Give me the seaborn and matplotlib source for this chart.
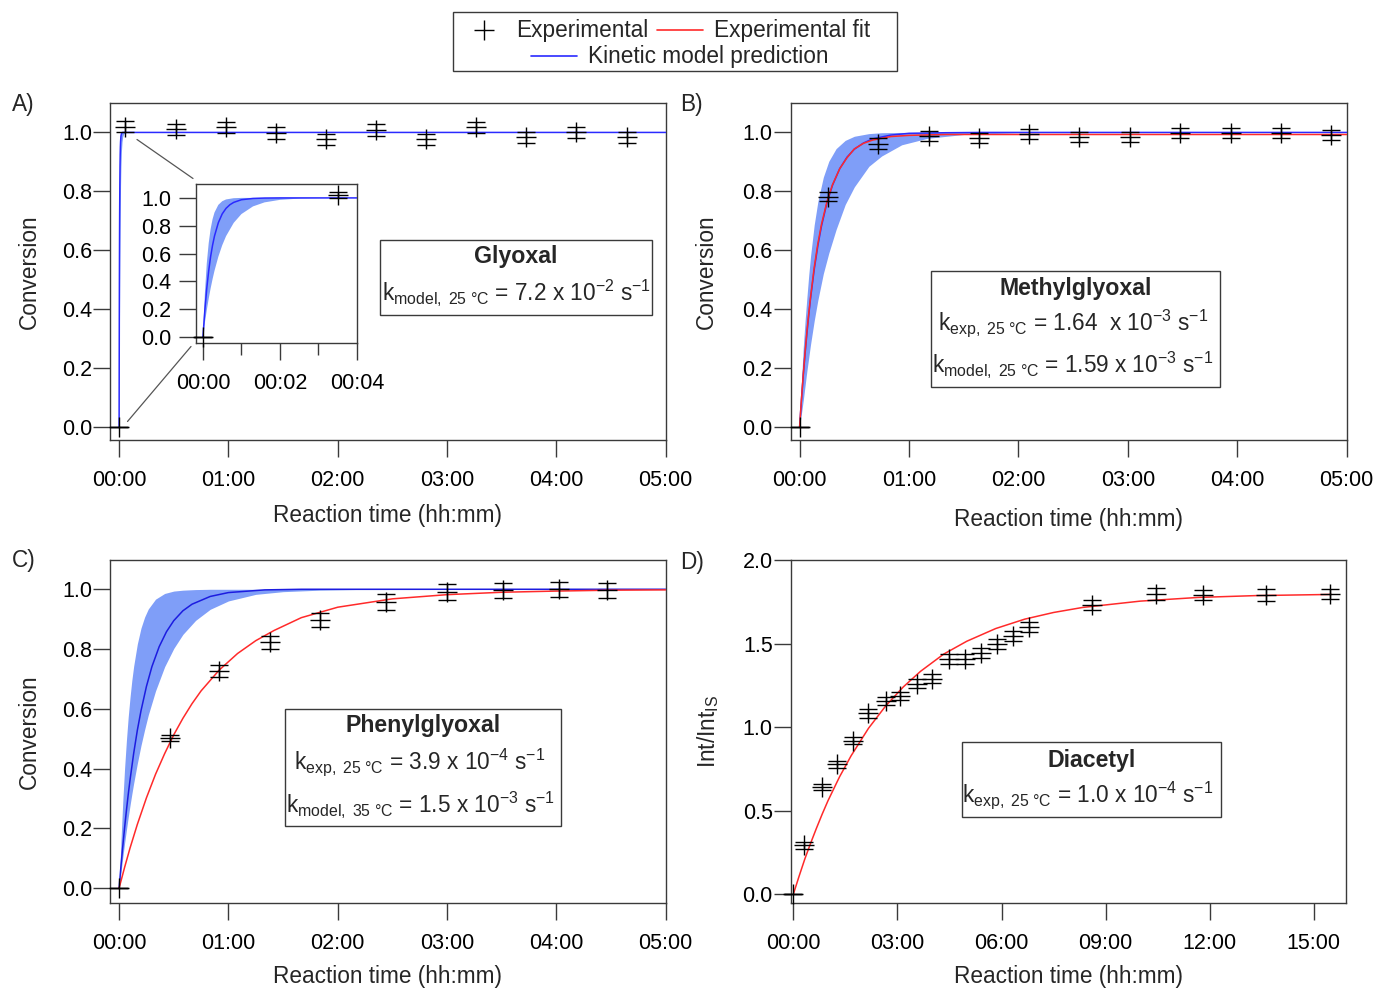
import numpy as np
import pandas as pd
import matplotlib
matplotlib.use("Agg")
import matplotlib.pyplot as plt
import seaborn as sns
from matplotlib.patches import Rectangle
from matplotlib.lines import Line2D
from matplotlib.ticker import FixedLocator, FuncFormatter

# ---------------- data (time in minutes) ----------------
# A) Glyoxal
gly_t = [0, 3.5, 31, 58.5, 86, 113.5, 141, 168.5, 196, 223.5, 251, 278.5]
gly_y = [0, 1.020, 1.010, 1.017, 0.997, 0.976, 1.007, 0.976, 1.017, 0.983, 1.000, 0.983]
gly_err = [0, 0.02, 0.02, 0.02, 0.02, 0.02, 0.02, 0.02, 0.02, 0.02, 0.02, 0.02]
gly_model_t = [0, 0.05, 0.1, 0.15, 0.2, 0.25, 0.3, 0.4, 0.5, 0.6, 0.7, 0.8, 1.0, 1.3, 1.6, 2.0, 300]
gly_model_y = [0, 0.194, 0.351, 0.477, 0.579, 0.66, 0.726, 0.822, 0.885, 0.925, 0.951, 0.968, 0.987, 0.996, 0.999, 1.0, 1.0]
gly_band_t = [0, 0.05, 0.1, 0.15, 0.2, 0.25, 0.3, 0.4, 0.5, 0.6, 0.8, 1.0, 1.3, 1.6, 2.0, 2.5, 3.0, 4.0, 300]
gly_band_hi = [0, 0.31, 0.53, 0.675, 0.777, 0.847, 0.895, 0.95, 0.976, 0.989, 0.998, 1.0, 1.0, 1.0, 1.0, 1.0, 1.0, 1.0, 1.0]
gly_band_lo = [0, 0.102, 0.193, 0.276, 0.35, 0.416, 0.476, 0.577, 0.659, 0.725, 0.821, 0.884, 0.939, 0.968, 0.986, 0.995, 0.998, 1.0, 1.0]

# B) Methylglyoxal
meth_t = [0, 15.8, 43.2, 70.7, 98.6, 125.8, 153.3, 181.3, 208.6, 236.3, 263.7, 291.5]
meth_y = [0, 0.782, 0.962, 0.989, 0.981, 0.994, 0.986, 0.986, 0.999, 0.999, 0.999, 0.991]
meth_err = [0, 0.014, 0.018, 0.017, 0.017, 0.017, 0.017, 0.017, 0.017, 0.017, 0.017, 0.017]
meth_curve_t = [0, 1, 2, 3, 4, 5, 6, 8, 10, 12, 15, 18, 22, 26, 30, 35, 40, 50, 60, 80, 100, 300]
meth_fit_y = [0, 0.093, 0.178, 0.254, 0.323, 0.385, 0.441, 0.541, 0.622, 0.688, 0.765, 0.822, 0.877, 0.914, 0.944, 0.963, 0.974, 0.986, 0.990, 0.993, 0.993, 0.993]
meth_model_y = [0, 0.091, 0.174, 0.249, 0.317, 0.379, 0.436, 0.534, 0.615, 0.682, 0.761, 0.820, 0.877, 0.916, 0.943, 0.964, 0.978, 0.991, 0.997, 0.999, 1.0, 1.0]
meth_band_t = [0, 1, 2, 3, 4, 5, 6, 8, 10, 13, 16, 20, 25, 30, 38, 45, 56, 70, 90, 120, 300]
meth_band_hi = [0, 0.15, 0.27, 0.36, 0.44, 0.515, 0.58, 0.686, 0.765, 0.848, 0.902, 0.945, 0.973, 0.987, 0.996, 0.999, 1.0, 1.0, 1.0, 1.0, 1.0]
meth_band_lo = [0, 0.045, 0.09, 0.14, 0.19, 0.235, 0.28, 0.36, 0.43, 0.52, 0.59, 0.67, 0.755, 0.815, 0.885, 0.92, 0.958, 0.98, 0.993, 0.999, 1.0]

# C) Phenylglyoxal
phen_t = [0, 28, 55, 83, 110.5, 146.3, 179.8, 210.8, 241.2, 267.6]
phen_y = [0, 0.502, 0.727, 0.822, 0.897, 0.958, 0.990, 0.996, 1.000, 0.996]
phen_err = [0, 0.011, 0.02, 0.022, 0.022, 0.027, 0.027, 0.025, 0.026, 0.025]
phen_fit_t = [0, 3, 6, 10, 15, 20, 25, 30, 35, 40, 45, 55, 65, 75, 85, 100, 120, 150, 180, 210, 240, 270, 300]
phen_fit_y = [0, 0.069, 0.134, 0.213, 0.302, 0.381, 0.45, 0.513, 0.568, 0.617, 0.66, 0.73, 0.785, 0.828, 0.862, 0.905, 0.94, 0.968, 0.982, 0.99, 0.994, 0.997, 0.998]
phen_model_t = [0, 1, 2, 3, 4, 5, 6, 8, 10, 12, 15, 18, 22, 26, 30, 35, 40, 50, 60, 80, 100, 300]
phen_model_y = [0, 0.072, 0.139, 0.201, 0.259, 0.313, 0.362, 0.451, 0.528, 0.593, 0.675, 0.741, 0.808, 0.858, 0.895, 0.928, 0.95, 0.976, 0.989, 0.998, 1.0, 1.0]
phen_band_t = [0, 1, 2, 3, 4, 5, 6, 7, 8, 10, 12, 14, 16, 20, 25, 30, 35, 42, 50, 60, 75, 90, 110, 130, 300]
phen_band_hi = [0, 0.156, 0.288, 0.40, 0.493, 0.573, 0.639, 0.696, 0.743, 0.817, 0.87, 0.907, 0.934, 0.967, 0.986, 0.994, 0.997, 0.999, 1.0, 1.0, 1.0, 1.0, 1.0, 1.0, 1.0]
phen_band_lo = [0, 0.052, 0.102, 0.15, 0.194, 0.237, 0.277, 0.315, 0.351, 0.417, 0.477, 0.53, 0.579, 0.66, 0.741, 0.802, 0.849, 0.896, 0.933, 0.961, 0.983, 0.992, 0.997, 0.999, 1.0]

# D) Diacetyl
dia_t = [0, 19.2, 49.4, 75, 103.9, 130, 160, 184.7, 213.5, 240.5, 269.3, 296.9, 323.8,
         351.4, 380.2, 407.2, 516.2, 626.4, 708.5, 817.5, 927.8]
dia_y = [0, 0.293, 0.641, 0.777, 0.92, 1.082, 1.155, 1.185, 1.261, 1.291, 1.408, 1.408, 1.444,
         1.5, 1.548, 1.6, 1.729, 1.797, 1.789, 1.789, 1.797]
dia_err = [0, 0.02, 0.02, 0.02, 0.02, 0.025, 0.025, 0.025, 0.025, 0.025, 0.03, 0.03, 0.03,
           0.03, 0.03, 0.03, 0.03, 0.035, 0.03, 0.035, 0.03]
dia_fit_t = [0, 10, 20, 30, 40, 50, 60, 80, 100, 130, 160, 190, 220, 260, 300, 350, 400, 450, 500, 600, 700, 800, 930]
dia_fit_y = [0, 0.108, 0.212, 0.306, 0.395, 0.48, 0.56, 0.703, 0.829, 0.993, 1.128, 1.24, 1.334, 1.437, 1.514,
             1.59, 1.646, 1.686, 1.716, 1.754, 1.776, 1.787, 1.794]

legend_labels = ["Experimental", "Experimental fit", "Kinetic model prediction"]

# ---------------- style ----------------
sns.set_theme(style="ticks")
FONT = ["Liberation Sans", "DejaVu Sans"]
plt.rcParams["font.family"] = FONT
plt.rcParams["mathtext.fontset"] = "custom"
plt.rcParams["mathtext.rm"] = "Liberation Sans"
plt.rcParams["mathtext.it"] = "Liberation Sans:italic"
plt.rcParams["mathtext.bf"] = "Liberation Sans:bold"

FS = 15.5      # tick labels
FL = 16.3      # axis labels, legend, annotations
BLUE = "#2a2aff"
RED = "#ff2a2a"
BAND = "#7f9ef8"
SPINE = "#3a3a3a"

W, H = 1376, 989
fig = plt.figure(figsize=(W / 100, H / 100), dpi=100)
fig.patch.set_facecolor("white")


def box(l, t, r, b):
    return [l / W, 1 - b / H, (r - l) / W, (b - t) / H]


def fx(x):
    return x / W


def fy(y):
    return 1 - y / H


def hhmm(v, pos=None):
    v = int(round(v))
    return f"{v // 60:02d}:{v % 60:02d}"


def style_axes(ax, xticks, yticks, xlim, ylim, yfmt="{:.1f}", xpad=9.5, ypad=1):
    ax.set_xlim(*xlim)
    ax.set_ylim(*ylim)
    ax.xaxis.set_major_locator(FixedLocator(xticks))
    ax.xaxis.set_major_formatter(FuncFormatter(hhmm))
    ax.yaxis.set_major_locator(FixedLocator(yticks))
    ax.yaxis.set_major_formatter(FuncFormatter(lambda v, p: yfmt.format(v)))
    for s in ax.spines.values():
        s.set_color(SPINE)
        s.set_linewidth(1.0)
        s.set_visible(True)
    ax.tick_params(axis="both", direction="out", length=12, width=1.0, color=SPINE,
                   labelsize=FS, labelcolor="black")
    ax.tick_params(axis="x", pad=xpad)
    ax.tick_params(axis="y", pad=ypad)
    ax.set_facecolor("white")
    ax.grid(False)


def exp_points(ax, t, y, e):
    ax.errorbar(t, y, yerr=e, fmt="none", ecolor="black", elinewidth=1.0,
                capsize=6.5, capthick=1.0, zorder=5, clip_on=False)
    sns.scatterplot(x=t, y=y, ax=ax, marker="+", s=190, color="black",
                    linewidth=1.0, zorder=6, clip_on=False, legend=False)


def band(ax, t, lo, hi):
    ax.fill_between(t, lo, hi, color=BAND, linewidth=0, zorder=2)


def curve(ax, t, y, color, lw=1.1, z=3):
    sns.lineplot(x=t, y=y, ax=ax, color=color, linewidth=lw, zorder=z,
                 estimator=None, sort=False, legend=False)


def annot(l, t, r, b, title, lines):
    fig.add_artist(Rectangle((fx(l), fy(b)), (r - l) / W, (b - t) / H,
                             transform=fig.transFigure, facecolor="white",
                             edgecolor=SPINE, linewidth=1.0, zorder=10))
    cx = (l + r) / 2
    fig.text(fx(cx), fy(title[1]), title[0], ha="center", va="center",
             fontsize=16.7, fontweight="bold", zorder=11)
    for txt, yy, xx in lines:
        fig.text(fx(xx), fy(yy), txt, ha="center", va="center", fontsize=FL, zorder=11)


# ---------------- A) Glyoxal ----------------
axA = fig.add_axes(box(110, 103, 665.7, 440))
band(axA, gly_band_t, gly_band_lo, gly_band_hi)
curve(axA, gly_model_t, gly_model_y, BLUE)
exp_points(axA, gly_t, gly_y, gly_err)
style_axes(axA, [0, 60, 120, 180, 240, 300], [0, 0.2, 0.4, 0.6, 0.8, 1.0], (-5, 300), (-0.045, 1.10))
axA.set_xlabel("Reaction time (hh:mm)", fontsize=FL)
axA.set_ylabel("Conversion", fontsize=FL)
axA.xaxis.set_label_coords(0.5, -0.19)
axA.yaxis.set_label_coords(-0.125, 0.5)

# inset
axI = fig.add_axes(box(196, 184, 357, 343))
band(axI, gly_band_t, gly_band_lo, gly_band_hi)
curve(axI, gly_model_t, gly_model_y, BLUE)
exp_points(axI, gly_t, gly_y, gly_err)
style_axes(axI, [0, 2, 4], [0, 0.2, 0.4, 0.6, 0.8, 1.0], (-0.18, 4.0), (-0.043, 1.10),
           xpad=9.5, ypad=6)
axI.xaxis.set_minor_locator(FixedLocator([1, 3]))
axI.tick_params(axis="x", which="minor", direction="out", length=8.5, width=1.0, color=SPINE)
axI.set_xlabel("")
axI.set_ylabel("")
for (x0, y0, x1, y1) in [(137, 139.5, 193, 178.5), (127.5, 421.5, 191, 346.5)]:
    fig.add_artist(Line2D([fx(x0), fx(x1)], [fy(y0), fy(y1)], transform=fig.transFigure,
                          color="#555555", linewidth=0.9, zorder=9))

annot(380, 240, 652, 315, ("Glyoxal", 257),
      [(r"k$_{\mathregular{model,\ 25\ °C}}$ = 7.2 x 10$^{\mathregular{-2}}$ s$^{\mathregular{-1}}$", 292, 516)])

# ---------------- B) Methylglyoxal ----------------
axB = fig.add_axes(box(790.5, 103, 1346.7, 440))
band(axB, meth_band_t, meth_band_lo, meth_band_hi)
curve(axB, meth_curve_t, meth_model_y, BLUE, z=3)
curve(axB, meth_curve_t, meth_fit_y, RED, z=4)
exp_points(axB, meth_t, meth_y, meth_err)
style_axes(axB, [0, 60, 120, 180, 240, 300], [0, 0.2, 0.4, 0.6, 0.8, 1.0], (-5, 300), (-0.045, 1.10))
axB.set_xlabel("Reaction time (hh:mm)", fontsize=FL)
axB.set_ylabel("Conversion", fontsize=FL)
axB.xaxis.set_label_coords(0.5, -0.202)
axB.yaxis.set_label_coords(-0.13, 0.5)
annot(931.5, 270.7, 1220.4, 387.3, ("Methylglyoxal", 288),
      [(r"k$_{\mathregular{exp,\ 25\ °C}}$ = 1.64  x 10$^{\mathregular{-3}}$ s$^{\mathregular{-1}}$", 323, 1073),
       (r"k$_{\mathregular{model,\ 25\ °C}}$ = 1.59 x 10$^{\mathregular{-3}}$ s$^{\mathregular{-1}}$", 365, 1073)])

# ---------------- C) Phenylglyoxal ----------------
axC = fig.add_axes(box(110, 560, 665.7, 903.3))
band(axC, phen_band_t, phen_band_lo, phen_band_hi)
curve(axC, phen_model_t, phen_model_y, "#1c1ce0", z=3)
curve(axC, phen_fit_t, phen_fit_y, RED, z=4)
exp_points(axC, phen_t, phen_y, phen_err)
style_axes(axC, [0, 60, 120, 180, 240, 300], [0, 0.2, 0.4, 0.6, 0.8, 1.0], (-5, 300), (-0.051, 1.098))
axC.set_xlabel("Reaction time (hh:mm)", fontsize=FL)
axC.set_ylabel("Conversion", fontsize=FL)
axC.xaxis.set_label_coords(0.5, -0.18)
axC.yaxis.set_label_coords(-0.125, 0.5)
annot(284.6, 709, 561.4, 826, ("Phenylglyoxal", 725.7),
      [(r"k$_{\mathregular{exp,\ 25\ °C}}$ = 3.9 x 10$^{\mathregular{-4}}$ s$^{\mathregular{-1}}$", 762, 420),
       (r"k$_{\mathregular{model,\ 35\ °C}}$ = 1.5 x 10$^{\mathregular{-3}}$ s$^{\mathregular{-1}}$", 804, 420)])

# ---------------- D) Diacetyl ----------------
axD = fig.add_axes(box(790.7, 560, 1346, 903.3))
curve(axD, dia_fit_t, dia_fit_y, RED, z=4)
exp_points(axD, dia_t, dia_y, dia_err)
style_axes(axD, [0, 180, 360, 540, 720, 900], [0, 0.5, 1.0, 1.5, 2.0], (-4.5, 955.6), (-0.054, 2.0))
axD.set_xlabel("Reaction time (hh:mm)", fontsize=FL)
axD.set_ylabel(r"Int/Int$_{\mathregular{IS}}$", fontsize=FL)
axD.xaxis.set_label_coords(0.5, -0.18)
axD.yaxis.set_label_coords(-0.126, 0.5)
annot(961.6, 742, 1221, 817.3, ("Diacetyl", 760),
      [(r"k$_{\mathregular{exp,\ 25\ °C}}$ = 1.0 x 10$^{\mathregular{-4}}$ s$^{\mathregular{-1}}$", 795, 1088)])

# panel letters
for lab, x, y in [("A)", 12, 104), ("B)", 680, 104), ("C)", 12, 561), ("D)", 680, 562)]:
    fig.text(fx(x), fy(y), lab, ha="left", va="center", fontsize=FL)

# ---------------- legend ----------------
fig.add_artist(Rectangle((fx(453), fy(71)), (897 - 453) / W, (71 - 12) / H,
                         transform=fig.transFigure, facecolor="white",
                         edgecolor=SPINE, linewidth=1.0, zorder=10))
fig.add_artist(Line2D([fx(484)], [fy(30)], marker="+", markersize=14, markeredgewidth=1.0,
                      color="black", transform=fig.transFigure, zorder=11))
fig.text(fx(516), fy(30), legend_labels[0], ha="left", va="center", fontsize=FL, zorder=11)
fig.add_artist(Line2D([fx(657), fx(703)], [fy(30), fy(30)], color=RED, linewidth=1.2,
                      transform=fig.transFigure, zorder=11))
fig.text(fx(714), fy(30), legend_labels[1], ha="left", va="center", fontsize=FL, zorder=11)
fig.add_artist(Line2D([fx(531), fx(577)], [fy(56), fy(56)], color=BLUE, linewidth=1.2,
                      transform=fig.transFigure, zorder=11))
fig.text(fx(588), fy(56), legend_labels[2], ha="left", va="center", fontsize=FL, zorder=11)

fig.savefig("out.png", dpi=100, facecolor="white")
